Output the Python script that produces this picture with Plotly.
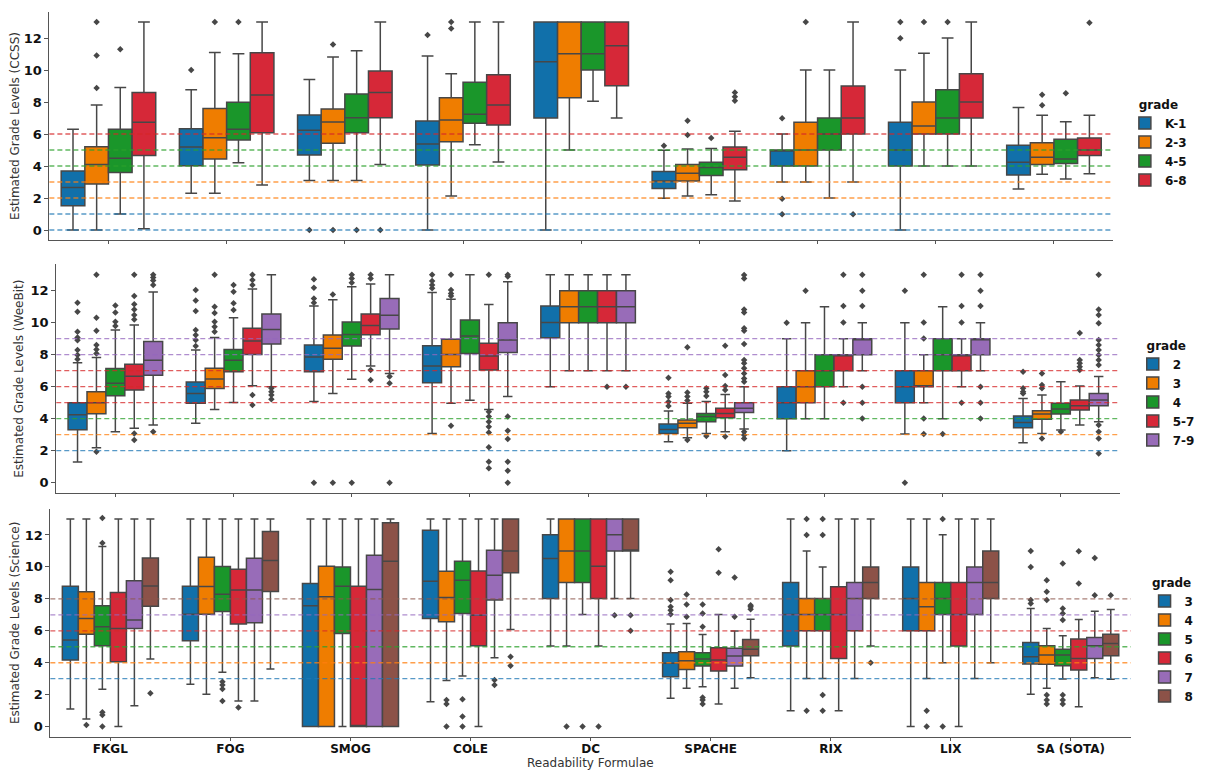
import plotly.graph_objects as go

FORMULAE = ['FKGL', 'FOG', 'SMOG', 'COLE', 'DC', 'SPACHE', 'RIX', 'LIX', 'SA (SOTA)']

# ---------------- CCSS ----------------
CCSS_GRADES = ['K-1', '2-3', '4-5', '6-8']
CCSS_Q1 = [
    [1.52, 4.02, 4.69, 4.06, 7.0, 2.6, 4.0, 4.0, 3.44],
    [2.88, 4.44, 5.42, 5.52, 8.27, 3.06, 4.0, 6.0, 4.1],
    [3.6, 5.63, 6.08, 6.67, 10.0, 3.4, 5.0, 6.0, 4.15],
    [4.65, 6.08, 7.02, 6.56, 9.02, 3.77, 6.0, 7.0, 4.65],
]
CCSS_MED = [
    [2.65, 5.19, 6.23, 5.38, 10.52, 3.06, 5.0, 5.0, 4.23],
    [4.1, 5.77, 6.75, 6.88, 11.02, 3.54, 5.0, 6.5, 4.54],
    [4.48, 6.29, 7.02, 7.23, 11.02, 3.9, 6.0, 7.0, 4.44],
    [6.73, 8.44, 8.6, 7.81, 11.52, 4.54, 7.0, 8.0, 5.0],
]
CCSS_Q3 = [
    [3.69, 6.33, 7.19, 6.81, 13.0, 3.65, 5.0, 6.73, 5.29],
    [5.21, 7.6, 7.56, 8.27, 13.0, 4.1, 6.73, 8.0, 5.46],
    [6.29, 7.98, 8.5, 9.23, 13.0, 4.23, 7.0, 8.77, 5.67],
    [8.6, 11.08, 9.94, 9.71, 13.0, 5.19, 9.0, 9.77, 5.75],
]
CCSS_LO = [
    [0.0, 2.29, 3.1, 0.0, 0.0, 1.98, 3.0, 0.0, 2.56],
    [0.0, 2.29, 3.1, 2.13, 5.0, 2.13, 3.0, 4.0, 3.48],
    [1.0, 4.21, 3.1, 5.33, 8.04, 2.2, 2.0, 4.0, 3.19],
    [0.08, 2.81, 4.1, 4.25, 7.0, 1.81, 3.0, 4.0, 3.52],
]
CCSS_HI = [
    [6.29, 8.77, 9.4, 10.88, 13.0, 4.98, 6.0, 10.0, 7.65],
    [7.81, 11.1, 10.81, 9.77, 13.0, 5.06, 10.0, 11.04, 7.17],
    [8.9, 11.02, 11.2, 13.0, 13.0, 5.1, 10.0, 12.0, 6.77],
    [13.0, 13.0, 13.0, 13.0, 13.0, 6.17, 13.0, 13.0, 7.17],
]
CCSS_OUT = [
    [[], [10.0], [0.0], [12.19], [], [5.27], [6.98, 1.96, 0.98], [13.0, 11.98], []],
    [[13.0, 10.9, 8.88], [13.0], [11.6, 0.0], [13.0, 12.6], [], [6.83, 5.94], [13.0], [13.0], [8.46, 7.79]],
    [[11.29], [13.0], [0.0], [], [], [5.75], [], [13.0], [8.54]],
    [[], [], [0.0], [], [], [8.6, 8.33, 8.08], [0.98], [], [12.96]],
]
CCSS_REF_LEVELS = [0, 1, 2, 3, 4, 5, 6]
CCSS_REF_GRADE = [0, 0, 1, 1, 2, 2, 3]

# ---------------- WeeBit ----------------
WB_GRADES = ['2', '3', '4', '5-7', '7-9']
WB_Q1 = [
    [3.31, 4.96, 6.94, 6.25, 9.06, 3.08, 4.0, 5.0, 3.44],
    [4.31, 5.88, 7.71, 7.25, 10.0, 3.44, 5.0, 6.0, 3.96],
    [5.44, 6.94, 8.54, 8.08, 10.0, 3.81, 6.0, 7.0, 4.29],
    [5.79, 8.02, 9.25, 7.04, 10.0, 4.06, 7.0, 7.0, 4.54],
    [6.71, 8.67, 9.6, 8.13, 10.0, 4.38, 8.0, 8.0, 4.81],
]
WB_MED = [
    [4.25, 5.58, 7.85, 7.29, 10.02, 3.33, 5.0, 6.0, 3.77],
    [5.0, 6.48, 8.4, 8.02, 11.0, 3.71, 6.0, 6.0, 4.29],
    [6.21, 7.65, 9.27, 9.17, 11.0, 4.13, 7.0, 8.0, 4.6],
    [6.65, 8.85, 9.83, 7.92, 11.0, 4.33, 8.0, 8.0, 4.81],
    [7.65, 9.58, 10.46, 8.92, 11.0, 4.65, 9.0, 9.0, 5.17],
]
WB_Q3 = [
    [5.0, 6.29, 8.6, 8.56, 11.04, 3.67, 6.0, 7.0, 4.17],
    [5.69, 7.15, 9.23, 8.96, 12.0, 3.92, 7.0, 7.0, 4.5],
    [7.13, 8.33, 10.04, 10.17, 12.0, 4.33, 8.0, 9.0, 4.96],
    [7.4, 9.65, 10.54, 8.71, 12.0, 4.65, 8.0, 8.0, 5.17],
    [8.83, 10.54, 11.52, 10.0, 12.0, 5.0, 9.0, 9.0, 5.58],
]
WB_LO = [
    [1.29, 3.71, 5.08, 3.08, 6.0, 2.56, 2.0, 3.04, 2.5],
    [2.19, 4.58, 5.58, 4.96, 7.0, 2.81, 4.0, 5.0, 3.08],
    [3.19, 5.02, 6.46, 5.15, 7.0, 3.08, 4.0, 4.0, 3.29],
    [3.4, 6.06, 7.29, 4.58, 7.0, 3.19, 6.0, 6.0, 3.6],
    [3.6, 6.0, 6.83, 5.38, 7.0, 3.35, 7.0, 7.0, 3.81],
]
WB_HI = [
    [7.5, 8.29, 11.04, 11.88, 13.0, 4.48, 9.0, 10.0, 5.27],
    [7.83, 9.08, 11.44, 11.46, 13.0, 4.96, 10.0, 8.0, 5.48],
    [9.54, 10.31, 12.25, 13.0, 13.0, 5.08, 11.0, 11.0, 6.31],
    [9.85, 12.1, 12.42, 11.13, 13.0, 5.52, 9.0, 9.0, 6.04],
    [11.92, 13.0, 13.0, 12.56, 13.0, 6.0, 10.0, 10.0, 6.63],
]
WB_OUT = [
    [[11.25, 10.69, 9.44, 9.08, 8.9, 8.29, 7.98, 7.71],
     [12.04, 11.38, 10.73, 9.54, 9.23, 8.92, 8.54],
     [12.71, 12.19, 11.52, 11.25, 0.0],
     [13.0, 12.6, 12.35, 12.15], [],
     [6.56, 5.58, 5.38, 5.06, 4.79], [10.0], [12.0, 0.0],
     [6.94, 5.9, 5.69, 5.58]],
    [[13.0, 10.31, 9.5, 8.6, 8.33, 8.08, 1.94],
     [13.0, 11.0, 10.6, 10.06, 9.75, 9.44],
     [11.77, 0.0],
     [13.0, 12.04, 11.83, 11.67, 3.56], [],
     [8.46, 5.63, 5.38, 5.13, 2.67], [12.0],
     [13.0, 10.02, 9.02, 4.02, 3.04],
     [6.83, 6.1, 5.9, 2.77]],
    [[11.08, 10.63, 10.06, 9.79],
     [12.35, 11.94, 11.21, 10.79],
     [13.0, 12.77, 12.5, 0.0],
     [], [],
     [5.9, 5.69, 5.42, 2.92], [], [3.04], [3.19]],
    [[13.0, 11.67, 11.15, 10.83, 10.48, 10.2, 3.08, 2.67],
     [13.0, 12.67, 12.35, 5.48, 4.85],
     [13.0, 12.77, 7.04, 6.42],
     [13.0, 4.44, 4.13, 3.81, 3.5, 3.13, 2.21, 1.31, 0.9],
     [6.0],
     [8.56, 6.73, 6.04, 5.79, 2.88],
     [13.0, 11.04, 10.02, 5.0],
     [13.0, 11.04, 10.02, 5.0],
     [9.35, 7.67, 7.46, 7.25, 7.04]],
    [[13.0, 12.83, 12.63, 12.35, 3.19],
     [5.9, 5.69, 5.48, 5.21],
     [6.63, 6.21, 0.0],
     [13.0, 12.88, 4.13, 3.25, 2.73, 1.31, 0.75, 0.0],
     [6.0],
     [12.98, 12.77, 10.83, 10.63, 9.65, 9.5, 8.67, 7.67, 7.46, 7.15, 6.83, 6.52, 6.31, 3.19, 2.98, 2.77],
     [13.0, 12.0, 11.04, 6.0, 5.0, 4.02],
     [13.0, 12.0, 11.04, 6.0, 5.0, 4.02],
     [13.0, 10.83, 10.48, 9.96, 8.92, 8.6, 8.29, 7.98, 7.67, 7.35, 3.6, 3.19, 2.77, 1.83]],
]
WB_REF_LEVELS = [2, 3, 4, 5, 6, 7, 8, 9]
WB_REF_GRADE = [0, 1, 2, 3, 3, 3, 4, 4]

# ---------------- Science ----------------
SC_GRADES = ['3', '4', '5', '6', '7', '8']
SC_Q1 = [
    [4.17, 5.38, 0.0, 6.77, 8.02, 3.13, 5.04, 6.0, 3.92],
    [5.79, 7.04, 0.0, 6.56, 9.02, 3.58, 6.0, 6.0, 3.9],
    [5.07, 7.2, 5.83, 7.08, 9.02, 3.79, 6.0, 7.02, 3.81],
    [4.06, 6.43, 0.0, 5.06, 8.02, 3.48, 4.27, 5.04, 3.54],
    [6.15, 6.5, 0.0, 7.92, 11.0, 3.79, 6.0, 7.02, 4.27],
    [7.54, 8.46, 0.0, 9.63, 11.0, 4.44, 8.02, 8.02, 4.44],
]
SC_MED = [
    [5.42, 7.04, 7.56, 9.1, 10.52, 3.96, 7.02, 8.02, 4.38],
    [6.77, 8.77, 8.13, 8.08, 11.0, 4.13, 7.02, 7.5, 4.48],
    [6.25, 8.29, 8.79, 9.17, 11.0, 4.23, 7.02, 8.02, 4.48],
    [6.15, 8.56, 0.0, 6.98, 10.04, 4.17, 7.02, 7.02, 4.27],
    [6.67, 8.56, 8.58, 9.48, 12.02, 4.42, 8.02, 9.02, 5.06],
    [8.81, 10.4, 10.35, 11.0, 11.0, 4.85, 9.02, 9.02, 5.21],
]
SC_Q3 = [
    [8.79, 8.79, 8.96, 12.29, 12.02, 4.63, 9.02, 10.0, 5.27],
    [8.44, 10.6, 10.04, 9.73, 13.0, 4.69, 8.02, 9.02, 5.06],
    [7.56, 10.02, 10.0, 10.35, 13.0, 4.63, 8.02, 9.02, 4.85],
    [8.4, 9.85, 8.79, 9.75, 13.0, 4.94, 8.75, 9.02, 5.48],
    [9.13, 10.54, 10.73, 11.04, 13.0, 4.9, 9.02, 10.0, 5.58],
    [10.56, 12.21, 12.77, 13.0, 13.0, 5.46, 10.0, 11.0, 5.79],
]
SC_LO = [
    [1.1, 2.65, 0.0, 1.56, 5.04, 1.77, 1.0, 0.0, 2.02],
    [0.48, 2.02, 0.0, 2.88, 5.04, 2.4, 3.02, 3.02, 2.4],
    [2.34, 3.4, 0.0, 3.17, 7.02, 2.5, 3.02, 4.0, 2.98],
    [0.0, 1.6, 0.0, 0.0, 5.04, 1.42, 1.0, 0.0, 1.25],
    [1.31, 1.6, 0.0, 4.31, 8.02, 2.4, 3.02, 3.02, 3.06],
    [4.23, 3.6, 0.0, 6.08, 8.02, 3.06, 5.04, 4.0, 2.96],
]
SC_HI = [
    [13.0, 13.0, 13.0, 13.0, 13.0, 6.42, 13.0, 13.0, 7.4],
    [13.0, 13.0, 13.0, 13.0, 13.0, 6.46, 11.0, 13.0, 6.15],
    [11.27, 13.0, 13.0, 13.0, 13.0, 5.77, 10.0, 12.02, 5.69],
    [13.0, 13.0, 13.0, 13.0, 13.0, 7.02, 13.0, 13.0, 6.71],
    [13.0, 13.0, 13.0, 13.0, 13.0, 5.98, 13.0, 13.0, 7.23],
    [13.0, 13.0, 13.0, 13.0, 13.0, 6.73, 13.0, 13.0, 7.33],
]
SC_OUT = [
    [[], [], [], [], [], [9.69, 9.17, 7.92, 7.5, 7.29, 7.04], [], [], [11.0, 10.0, 7.92, 7.71]],
    [[0.1], [], [], [1.67, 1.42, 0.0], [0.0], [8.27, 7.65, 6.88], [13.0, 12.0, 1.0], [1.0, 0.0],
     [9.17, 8.44, 7.92, 1.98, 1.67, 1.42]],
    [[13.06, 11.5, 0.9, 0.73, 0.0], [2.81, 2.6, 2.35, 1.6], [], [1.71, 0.63, 0.0], [0.0],
     [7.65, 7.08, 6.25, 1.83, 1.67, 1.42], [13.0, 12.0, 1.98, 1.0], [13.0, 0.0],
     [10.21, 7.4, 7.08, 6.67, 1.98, 1.67, 1.42]],
    [[], [1.19], [], [], [0.0], [11.1, 9.63], [], [], [10.98, 8.96]],
    [[], [], [], [2.92, 2.6], [6.98], [9.33, 6.88], [], [], [10.56, 8.23]],
    [[2.09], [], [], [4.38, 3.81], [6.98, 6.0], [7.6, 7.5, 7.35], [4.0], [], [8.23]],
]
SC_REF_LEVELS = [3, 4, 5, 6, 7, 8]
SC_REF_GRADE = [0, 1, 2, 3, 4, 5]

# ---------------- styling ----------------
BOX_COLORS = ['#1170aa', '#ef7d00', '#1a962a', '#d62838', '#986cb8', '#8c5248']
REF_COLORS = ['rgba(31,119,180,0.75)', 'rgba(255,127,14,0.75)', 'rgba(44,160,44,0.75)',
              'rgba(214,39,40,0.75)', 'rgba(148,103,189,0.75)', 'rgba(140,86,75,0.75)']
EDGE = '#474747'
FONT = 'DejaVu Sans'
OFF = 8                      # page body margin of the browser
W, H = 1208 - 2 * OFF, 772 - OFF


def px_x(v):
    return (v - OFF) / W


def px_y(v):
    return 1 - (v - OFF) / H


fig = go.Figure()

panels = [
    dict(key='ccss', grades=CCSS_GRADES, q1=CCSS_Q1, med=CCSS_MED, q3=CCSS_Q3, lo=CCSS_LO, hi=CCSS_HI,
         out=CCSS_OUT, levels=CCSS_REF_LEVELS, lgrade=CCSS_REF_GRADE,
         xa='x', ya='y', leg='legend', title='Estimated Grade Levels (CCSS)',
         xpx=(50, 1130), ypx=(11.6, 240.4), legx=1142, legy=93),
    dict(key='weebit', grades=WB_GRADES, q1=WB_Q1, med=WB_MED, q3=WB_Q3, lo=WB_LO, hi=WB_HI,
         out=WB_OUT, levels=WB_REF_LEVELS, lgrade=WB_REF_GRADE,
         xa='x2', ya='y2', leg='legend2', title='Estimated Grade Levels (WeeBit)',
         xpx=(57, 1137), ypx=(264.3, 493.1), legx=1150, legy=334),
    dict(key='science', grades=SC_GRADES, q1=SC_Q1, med=SC_MED, q3=SC_Q3, lo=SC_LO, hi=SC_HI,
         out=SC_OUT, levels=SC_REF_LEVELS, lgrade=SC_REF_GRADE,
         xa='x3', ya='y3', leg='legend3', title='Estimated Grade Levels (Science)',
         xpx=(51, 1148), ypx=(508.6, 737.0), legx=1162, legy=571),
]

layout = {}
for pi, p in enumerate(panels):
    for gi, g in enumerate(p['grades']):
        samples = [o if o else [None] for o in p['out'][gi]]
        fig.add_trace(go.Box(
            x=FORMULAE, y=samples,
            q1=p['q1'][gi], median=p['med'][gi], q3=p['q3'][gi],
            lowerfence=p['lo'][gi], upperfence=p['hi'][gi],
            orientation='v', name=g, legend=p['leg'],
            xaxis=p['xa'], yaxis=p['ya'],
            alignmentgroup=p['key'], offsetgroup=f"{p['key']}-{gi}",
            fillcolor=BOX_COLORS[gi], line=dict(color=EDGE, width=1.5),
            marker=dict(symbol='diamond', size=5, color=EDGE, line=dict(width=0)),
            boxpoints='outliers', pointpos=0, jitter=0, whiskerwidth=0.5,
            hoverinfo='skip',
        ))
    for lvl, lg in zip(p['levels'], p['lgrade']):
        fig.add_shape(type='line', xref=p['xa'] + ' domain', yref=p['ya'],
                      x0=0, x1=1, y0=lvl, y1=lvl, layer='above',
                      line=dict(color=REF_COLORS[lg], width=1.3, dash='5px,3px'))

    suffix = '' if pi == 0 else str(pi + 1)
    x0, x1 = p['xpx']
    ytop, ybot = p['ypx']
    layout['xaxis' + suffix] = dict(
        domain=[px_x(x0), px_x(x1)], anchor=p['ya'], type='category',
        categoryorder='array', categoryarray=FORMULAE, range=[-0.5, 8.5],
        showline=True, linecolor='#555', linewidth=1, ticks='outside', ticklen=3,
        tickcolor='#555', showgrid=False, zeroline=False,
        showticklabels=(pi == 2), ticklabelstandoff=-2,
        tickfont=dict(family=FONT, size=12, color='#111', weight='bold'),
        automargin=False,
    )
    layout['yaxis' + suffix] = dict(
        domain=[px_y(ybot), px_y(ytop)], anchor=p['xa'],
        range=[-0.65, 13.65], tickvals=[0, 2, 4, 6, 8, 10, 12],
        showline=True, linecolor='#555', linewidth=1, ticks='outside', ticklen=4,
        tickcolor='#555', showgrid=False, zeroline=False,
        tickfont=dict(family=FONT, size=13, color='#111', weight='bold'),
        title=dict(text=p['title'], font=dict(family=FONT, size=12, color='#333'), standoff=4),
        automargin=False,
    )
    layout[p['leg']] = dict(
        x=px_x(p['legx']), y=px_y(p['legy']), xanchor='left', yanchor='top',
        title=dict(text='grade', side='top center',
                   font=dict(family=FONT, size=12, color='#111', weight='bold')),
        font=dict(family=FONT, size=12, color='#111', weight='bold'),
        bgcolor='rgba(0,0,0,0)', tracegroupgap=0,
    )

fig.update_layout(
    width=W, height=H,
    margin=dict(l=0, r=0, t=0, b=0),
    paper_bgcolor='white', plot_bgcolor='white',
    boxmode='group', boxgap=0.2, boxgroupgap=0.0,
    font=dict(family=FONT, color='#222'),
    annotations=[dict(text='Readability Formulae', xref='x3 domain', yref='paper',
                      x=0.5, y=px_y(763), xanchor='center', yanchor='middle',
                      showarrow=False, font=dict(family=FONT, size=12, color='#333'))],
    **layout,
)

fig.write_html('out.html')
